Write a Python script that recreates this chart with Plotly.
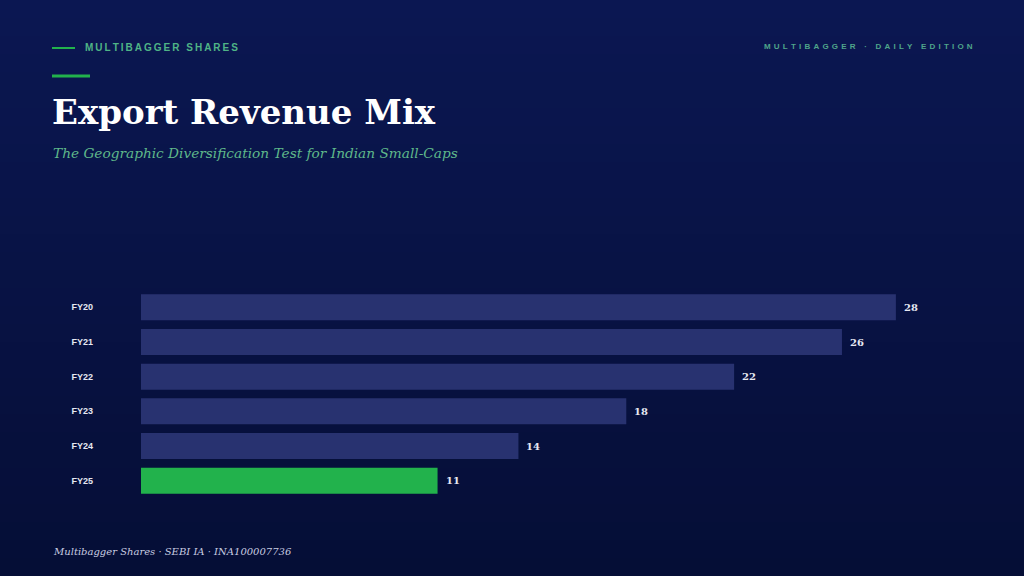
import plotly.graph_objects as go

years = ["FY20", "FY21", "FY22", "FY23", "FY24", "FY25"]
export_share = [28, 26, 22, 18, 14, 11]
highlight = "FY25"

bar_navy = "#283270"
bar_green = "#22b24c"
accent = "#22b24c"


def spaced(s, sp="\u2009"):
    # plotly has no letter-spacing, so pad the letters with thin spaces
    return sp.join(list(s))


colors = [bar_green if y == highlight else bar_navy for y in years]

fig = go.Figure()
fig.add_trace(go.Bar(
    x=export_share, y=years, orientation="h",
    marker=dict(color=colors, line=dict(width=0)),
    hoverinfo="skip",
))

# value labels at the bar ends
for y, v in zip(years, export_share):
    fig.add_annotation(x=v, y=y, xref="x", yref="y", text="<b>%d</b>" % v,
                       showarrow=False, xanchor="left", xshift=6,
                       font=dict(family="DejaVu Serif", size=10, color="#e6e8f2"))

W, H = 1024, 576
L, R, T, B = 141, 64, 290, 78


def px(x):
    return (x - L) / (W - L - R)


def py(y):
    return (H - B - y) / (H - T - B)


# background gradient: top #0b1752 -> bottom #050e36
n = 32
top = (11, 23, 82)
bot = (5, 14, 54)
shapes = []
for i in range(n):
    t = i / (n - 1)
    c = tuple(round(top[k] + (bot[k] - top[k]) * t) for k in range(3))
    shapes.append(dict(type="rect", xref="paper", yref="paper",
                       x0=px(0), x1=px(W), y0=py(H * (i + 1) / n + 1), y1=py(H * i / n),
                       fillcolor="rgb(%d,%d,%d)" % c, line=dict(width=0), layer="below"))

# accent rules
shapes.append(dict(type="line", xref="paper", yref="paper",
                   x0=px(52), x1=px(75), y0=py(48), y1=py(48),
                   line=dict(color=accent, width=2)))
shapes.append(dict(type="line", xref="paper", yref="paper",
                   x0=px(52), x1=px(90), y0=py(76), y1=py(76),
                   line=dict(color=accent, width=3)))

annos = [
    dict(text="<b>" + spaced("MULTIBAGGER SHARES") + "</b>", x=px(83), y=py(47),
         xanchor="left", yanchor="middle",
         font=dict(family="Liberation Sans", size=10, color="#4fb486")),
    dict(text="<b>" + spaced("MULTIBAGGER · DAILY EDITION", "\u2009\u2009") + "</b>", x=px(975), y=py(46),
         xanchor="right", yanchor="middle",
         font=dict(family="Liberation Sans", size=8, color="#4fa58a")),
    dict(text="<b>Export Revenue Mix</b>", x=px(50), y=py(112),
         xanchor="left", yanchor="middle",
         font=dict(family="DejaVu Serif", size=34, color="#ffffff")),
    dict(text="<i>The Geographic Diversification Test for Indian Small-Caps</i>", x=px(51), y=py(153),
         xanchor="left", yanchor="middle",
         font=dict(family="DejaVu Serif", size=13.7, color="#5fb88a")),
    dict(text="<i>Multibagger Shares · SEBI IA · INA100007736</i>", x=px(51), y=py(551),
         xanchor="left", yanchor="middle",
         font=dict(family="DejaVu Serif", size=10, color="#c8cce0")),
]
for a in annos:
    a.update(xref="paper", yref="paper", showarrow=False)
    fig.add_annotation(**a)

fig.update_layout(
    width=W, height=H,
    margin=dict(l=L, r=R, t=T, b=B),
    paper_bgcolor="#08123f",
    plot_bgcolor="rgba(0,0,0,0)",
    shapes=shapes,
    showlegend=False,
    bargap=0.25,
)
fig.update_xaxes(range=[0, (W - L - R) / 26.96], visible=False, fixedrange=True)
fig.update_yaxes(autorange="reversed", showgrid=False, zeroline=False, showline=False,
                 ticks="", ticklabelstandoff=47,
                 tickfont=dict(family="Liberation Sans", size=9, color="#e6e8f2", weight="bold"),
                 fixedrange=True)

fig.write_html("out.html", config={"displayModeBar": False},
               post_script="document.body.style.margin='0';document.body.style.overflow='hidden';")
